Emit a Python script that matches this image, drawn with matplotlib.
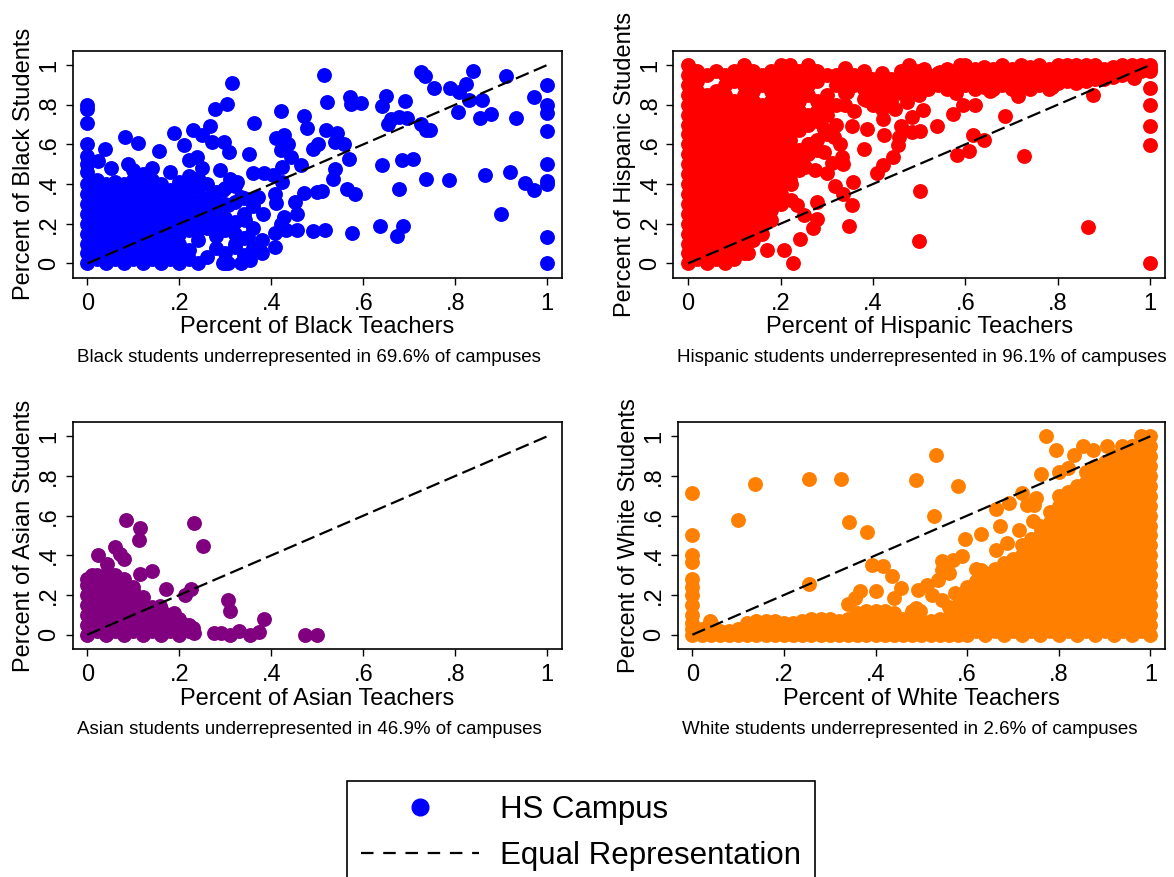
import numpy as np
import matplotlib
matplotlib.use("Agg")
import matplotlib.pyplot as plt
from matplotlib.lines import Line2D

plt.rcParams['font.family'] = ['Liberation Sans', 'DejaVu Sans']
plt.rcParams['lines.scale_dashes'] = False

W, H = 1174, 877

# dense clouds: x (hundredths) -> y values (hundredths)
black_blob = {
    0: [0, 5, 10, 15, 20, 25, 30, 35, 40, 46, 50, 54, 60, 71, 78, 80],
    2: [2, 7, 12, 17, 22, 27, 32, 37, 42],
    4: [0, 5, 10, 15, 20, 25, 30, 35, 40],
    6: [2, 7, 12, 17, 22, 27, 32, 37, 41],
    8: [0, 5, 10, 15, 20, 25, 30, 35, 40],
    10: [2, 7, 12, 17, 22, 27, 32, 37, 42, 47],
    12: [0, 5, 10, 15, 20, 25, 30, 35, 40, 45],
    14: [2, 7, 12, 17, 22, 27, 32, 37, 42, 48],
    16: [0, 5, 10, 15, 20, 25, 30, 35, 40],
    18: [2, 7, 12, 17, 22, 27, 32, 37, 46],
    20: [0, 5, 10, 15, 20, 25, 30, 35, 41],
    22: [2, 7, 17, 22, 27, 32, 38, 44, 52],
    24: [0, 12, 17, 22, 27, 32, 38, 43],
    26: [3, 18, 23, 28, 33, 40],
    28: [8, 14, 20, 25, 31, 36],
    30: [0, 5, 17, 23, 30, 38],
    32: [10, 15, 21, 31, 39],
    34: [4, 13, 25, 33],
    36: [8, 18, 29],
    38: [5, 12],
}
black_extra = [
    (0.514, 0.951), (0.314, 0.908), (0.304, 0.804), (0.278, 0.779), (0.267, 0.695),
    (0.189, 0.657), (0.229, 0.670), (0.250, 0.645), (0.211, 0.595), (0.271, 0.611),
    (0.297, 0.611), (0.308, 0.561), (0.362, 0.709), (0.420, 0.767), (0.471, 0.745),
    (0.477, 0.683), (0.520, 0.812), (0.518, 0.670), (0.543, 0.657), (0.539, 0.611),
    (0.558, 0.600), (0.501, 0.600), (0.491, 0.578), (0.568, 0.528), (0.539, 0.477),
    (0.533, 0.427), (0.564, 0.377), (0.582, 0.352), (0.499, 0.360), (0.511, 0.365),
    (0.471, 0.355), (0.465, 0.494), (0.443, 0.536), (0.437, 0.600), (0.427, 0.645),
    (0.411, 0.633), (0.420, 0.570), (0.424, 0.486), (0.423, 0.410), (0.408, 0.352),
    (0.410, 0.302), (0.452, 0.310), (0.455, 0.251), (0.427, 0.235), (0.421, 0.198),
    (0.455, 0.167), (0.432, 0.167), (0.408, 0.151), (0.408, 0.084), (0.490, 0.162),
    (0.516, 0.167), (0.576, 0.154), (0.572, 0.838), (0.574, 0.801), (0.594, 0.807),
    (0.640, 0.792), (0.650, 0.846), (0.660, 0.729), (0.654, 0.704), (0.678, 0.737),
    (0.696, 0.734), (0.690, 0.821), (0.726, 0.967), (0.735, 0.946), (0.754, 0.884),
    (0.789, 0.884), (0.809, 0.863), (0.823, 0.905), (0.838, 0.972), (0.829, 0.826),
    (0.859, 0.826), (0.805, 0.762), (0.853, 0.732), (0.878, 0.754), (0.910, 0.946),
    (0.932, 0.734), (0.971, 0.838), (1.0, 0.900), (1.0, 0.800), (1.0, 0.757),
    (1.0, 0.665), (1.0, 0.500), (1.0, 0.415), (1.0, 0.399), (1.0, 0.134), (1.0, 0.0),
    (0.726, 0.704), (0.736, 0.670), (0.746, 0.673), (0.709, 0.528), (0.685, 0.519),
    (0.640, 0.497), (0.736, 0.427), (0.787, 0.422), (0.865, 0.444), (0.919, 0.461),
    (0.952, 0.407), (0.971, 0.372), (0.678, 0.377), (0.900, 0.248), (0.636, 0.189),
    (0.687, 0.188), (0.674, 0.137), (0.039, 0.578), (0.082, 0.637), (0.109, 0.606),
    (0.155, 0.566), (0.022, 0.514), (0.089, 0.503), (0.051, 0.481), (0.352, 0.549),
    (0.360, 0.456), (0.384, 0.456), (0.403, 0.444), (0.250, 0.482), (0.238, 0.536),
    (0.289, 0.469), (0.382, 0.251), (0.358, 0.327), (0.372, 0.335), (0.334, 0.335),
    (0.342, 0.218), (0.350, 0.134), (0.378, 0.059), (0.354, 0.017), (0.334, 0.0),
    (0.294, 0.0), (0.306, 0.0), (0.322, 0.084), (0.294, 0.184), (0.306, 0.293),
    (0.294, 0.369), (0.326, 0.410), (0.310, 0.427),
]

hisp_blob = {
    0: [0, 5, 10, 15, 20, 25, 30, 35, 40, 45, 50, 55, 60, 65, 70, 75, 80, 85, 90, 95, 100],
    2: [2, 7, 12, 17, 22, 27, 32, 37, 42, 47, 52, 57, 62, 67, 72, 77, 82, 87, 92, 97],
    4: [0, 5, 10, 15, 20, 25, 30, 35, 40, 45, 50, 55, 60, 65, 70, 75, 80, 85, 95],
    6: [2, 7, 12, 17, 22, 27, 32, 37, 42, 47, 52, 57, 62, 67, 72, 77, 82, 87, 97],
    8: [0, 5, 10, 15, 20, 25, 30, 35, 40, 45, 50, 55, 60, 65, 70, 75, 80, 85, 90, 95],
    10: [2, 7, 12, 17, 22, 27, 32, 37, 42, 47, 52, 57, 62, 67, 72, 77, 82, 92, 97],
    12: [5, 10, 15, 20, 25, 30, 35, 40, 45, 50, 55, 60, 65, 70, 75, 80, 85, 90, 95, 100],
    14: [12, 17, 22, 27, 32, 37, 42, 47, 52, 57, 62, 67, 72, 77, 82, 87, 92, 97],
    16: [15, 20, 25, 30, 35, 40, 45, 50, 55, 60, 65, 70, 75, 80, 90, 95],
    18: [22, 27, 32, 37, 42, 47, 52, 57, 62, 67, 72, 77, 82, 87, 92, 97],
    20: [30, 35, 40, 45, 50, 55, 60, 65, 70, 75, 80, 85, 90, 95, 100],
    22: [42, 47, 52, 57, 62, 67, 72, 77, 82, 87, 92, 97, 100],
    24: [47, 52, 57, 67, 72, 77, 82, 87, 92, 97],
    26: [55, 60, 70, 75, 85, 90, 95, 100],
    28: [57, 62, 72, 77, 82, 92, 97],
    30: [65, 75, 80, 85, 95],
    32: [70, 80, 90, 95],
    34: [80, 86, 92, 98],
    36: [77, 90, 95],
    38: [83, 88, 93, 97],
    40: [80, 86, 92],
    42: [78, 85, 90, 96],
    44: [82, 88, 93],
    46: [86, 92, 97],
    48: [88, 93],
    50: [85, 92, 97],
    52: [88, 95],
    54: [90, 96],
    56: [88, 93, 98],
    58: [86, 91, 96],
    60: [90, 95, 100],
    62: [88, 93, 98],
    64: [89, 94, 99],
    66: [88, 93, 98],
    68: [90, 95, 100],
    70: [88, 93, 98],
    72: [90, 95, 100],
    74: [89, 94, 99],
    76: [90, 95, 100],
    78: [88, 93, 98],
    80: [91, 96, 100],
    82: [92, 97, 100],
    84: [91, 96, 100],
    86: [92, 97, 100],
    88: [93, 98, 100],
    90: [93, 98],
    92: [94, 99],
    94: [95, 100],
    96: [95, 100],
    98: [97, 100],
    100: [98, 100],
}
hisp_extra = [
    (1.0, 0.970), (1.0, 0.883), (1.0, 0.799), (1.0, 0.690), (1.0, 0.598), (1.0, 0.0),
    (0.865, 0.184), (0.726, 0.541), (0.686, 0.745), (0.714, 0.846), (0.877, 0.851),
    (0.964, 0.933), (0.640, 0.623), (0.616, 0.645), (0.608, 0.566), (0.581, 0.544),
    (0.621, 0.796), (0.594, 0.796), (0.573, 0.754), (0.539, 0.695), (0.501, 0.363),
    (0.500, 0.114), (0.501, 0.665), (0.485, 0.662), (0.485, 0.737), (0.509, 0.771),
    (0.473, 0.812), (0.444, 0.536), (0.455, 0.595), (0.456, 0.637), (0.460, 0.695),
    (0.448, 0.779), (0.424, 0.645), (0.422, 0.494), (0.409, 0.457), (0.422, 0.729),
    (0.380, 0.578), (0.388, 0.678), (0.384, 0.824), (0.356, 0.410), (0.354, 0.293),
    (0.348, 0.188), (0.336, 0.352), (0.317, 0.389), (0.354, 0.695), (0.336, 0.503),
    (0.332, 0.536), (0.279, 0.310), (0.279, 0.226), (0.271, 0.176), (0.250, 0.243),
    (0.235, 0.293), (0.223, 0.318), (0.243, 0.121), (0.227, 0.0), (0.207, 0.070),
    (0.171, 0.070), (0.171, 0.226), (0.130, 0.054), (0.223, 0.402), (0.199, 0.394),
    (0.275, 0.469), (0.254, 0.486), (0.235, 0.477), (0.295, 0.561), (0.316, 0.637),
    (0.328, 0.603), (0.295, 0.678), (0.340, 0.983), (0.336, 0.918), (0.344, 0.863),
    (0.477, 1.0), (0.384, 0.901), (0.397, 0.931), (0.432, 0.905), (0.408, 0.846),
    (0.432, 0.846), (0.452, 0.879), (0.468, 0.920), (0.489, 0.946), (0.510, 0.980),
    (0.521, 0.920), (0.537, 0.905), (0.545, 0.963), (0.589, 1.0), (0.654, 0.871),
    (0.788, 0.888), (0.740, 0.878), (0.312, 0.505), (0.262, 0.600), (0.300, 0.455),
]

asian_blob = {
    0: [0, 5, 10, 15, 20, 25, 28],
    2: [2, 7, 12, 17, 22, 27, 30],
    4: [0, 5, 10, 15, 20, 25, 30],
    6: [2, 7, 12, 17, 22, 27, 30],
    8: [0, 5, 10, 15, 20, 25, 28],
    10: [2, 7, 12, 17, 22, 24],
    12: [0, 5, 10, 15, 19],
    14: [2, 7, 12, 14],
    16: [0, 5, 10, 13],
    18: [2, 7, 10],
    20: [0, 4, 8],
    22: [2, 5],
}
asian_extra = [
    (0.084, 0.578), (0.114, 0.537), (0.113, 0.478), (0.232, 0.562), (0.252, 0.445),
    (0.060, 0.442), (0.022, 0.403), (0.071, 0.405), (0.080, 0.383), (0.043, 0.358),
    (0.114, 0.308), (0.140, 0.322), (0.171, 0.228), (0.212, 0.200), (0.225, 0.228),
    (0.305, 0.175), (0.310, 0.122), (0.010, 0.300), (0.384, 0.079), (0.473, 0.0),
    (0.499, 0.0), (0.374, 0.013), (0.354, 0.0), (0.330, 0.017), (0.310, 0.0),
    (0.291, 0.008), (0.275, 0.008), (0.157, 0.143), (0.189, 0.109), (0.229, 0.034),
    (0.213, 0.050), (0.232, 0.010),
]

white_blob = {
    0: [0, 3, 6, 10, 15, 20, 24],
    2: [0, 3], 4: [0, 2, 6], 6: [0, 2], 8: [0, 2], 10: [0, 3],
    12: [0, 3, 6], 14: [0, 3, 7], 16: [0, 3, 7], 18: [0, 3, 7], 20: [0, 3, 6],
    22: [0, 3, 6], 24: [0, 3, 7], 26: [0, 3, 8], 28: [0, 3, 8], 30: [0, 3, 8],
    32: [0, 3, 7], 34: [0, 4, 8], 36: [0, 4, 8, 11], 38: [0, 4, 8, 12],
    40: [0, 4, 8, 12], 42: [0, 4, 8, 12], 44: [0, 4, 8, 11], 46: [0, 4, 8],
    48: [0, 3, 7, 12], 50: [0, 3, 7], 52: [0, 3, 7], 54: [0, 4, 8],
    56: [0, 4, 9, 14], 58: [0, 5, 10, 15, 20],
    60: [0, 5, 10, 15, 20, 24],
    62: [2, 7, 12, 17, 22, 27, 33],
    64: [0, 5, 10, 15, 20, 25, 30],
    66: [2, 7, 12, 17, 22, 27, 33],
    68: [0, 5, 10, 15, 20, 25, 30, 36],
    70: [2, 7, 12, 17, 22, 27, 32, 38],
    72: [0, 5, 10, 15, 20, 25, 30, 35, 40, 45],
    74: [2, 7, 12, 17, 22, 27, 32, 37, 42, 48],
    76: [0, 5, 10, 15, 20, 25, 30, 35, 40, 45, 50, 55],
    78: [2, 7, 12, 17, 22, 27, 32, 37, 42, 47, 52, 57, 62],
    80: [0, 5, 10, 15, 20, 25, 30, 35, 40, 45, 50, 55, 60, 65, 70],
    82: [2, 7, 12, 17, 22, 27, 32, 37, 42, 47, 52, 57, 62, 67, 72],
    84: [0, 5, 10, 15, 20, 25, 30, 35, 40, 45, 50, 55, 60, 65, 70, 75],
    86: [2, 7, 12, 17, 22, 27, 32, 37, 42, 47, 52, 57, 62, 67, 72, 77, 82],
    88: [0, 5, 10, 15, 20, 25, 30, 35, 40, 45, 50, 55, 60, 65, 70, 75, 80, 85],
    90: [2, 7, 12, 17, 22, 27, 32, 37, 42, 47, 52, 57, 62, 67, 72, 77, 82, 87],
    92: [0, 5, 10, 15, 20, 25, 30, 35, 40, 45, 50, 55, 60, 65, 70, 75, 80, 85, 90],
    94: [2, 7, 12, 17, 22, 27, 32, 37, 42, 47, 52, 57, 62, 67, 72, 77, 82, 87, 92],
    96: [0, 5, 10, 15, 20, 25, 30, 35, 40, 45, 50, 55, 60, 65, 70, 75, 80, 85, 90, 95],
    98: [2, 7, 12, 17, 22, 27, 32, 37, 42, 47, 52, 57, 62, 67, 72, 77, 82, 87, 92, 97],
    100: [0, 5, 10, 15, 20, 25, 30, 35, 40, 45, 50, 55, 60, 65, 70, 75, 80, 85, 90, 95, 100],
}
white_extra = [
    (0.0, 0.714), (0.0, 0.500), (0.0, 0.403), (0.0, 0.365), (0.0, 0.280),
    (0.038, 0.067), (0.099, 0.576), (0.136, 0.761), (0.254, 0.785), (0.325, 0.787),
    (0.254, 0.257), (0.488, 0.782), (0.531, 0.908), (0.581, 0.751), (0.528, 0.597),
    (0.343, 0.566), (0.382, 0.516), (0.392, 0.353), (0.417, 0.345), (0.436, 0.294),
    (0.402, 0.222), (0.455, 0.235), (0.441, 0.185), (0.366, 0.218), (0.355, 0.185),
    (0.340, 0.156), (0.772, 1.0), (0.793, 0.933), (0.833, 0.908), (0.854, 0.950),
    (0.874, 0.929), (0.906, 0.953), (0.939, 0.950), (0.980, 1.0), (0.762, 0.812),
    (0.801, 0.818), (0.821, 0.840), (0.720, 0.714), (0.691, 0.664), (0.663, 0.634),
    (0.671, 0.550), (0.630, 0.509), (0.596, 0.482), (0.746, 0.655), (0.750, 0.689),
    (0.730, 0.655), (0.744, 0.571), (0.713, 0.529), (0.664, 0.429), (0.687, 0.462),
    (0.589, 0.395), (0.569, 0.378), (0.545, 0.370), (0.545, 0.328), (0.561, 0.311),
    (0.537, 0.277), (0.492, 0.227), (0.512, 0.252), (0.524, 0.202), (0.545, 0.176),
    (0.573, 0.210), (0.630, 0.328), (0.638, 0.311), (0.618, 0.235), (0.589, 0.202),
    (0.488, 0.134), (0.496, 0.118),
]

equal_line = [0, 1]
tick_vals = [0, 0.2, 0.4, 0.6, 0.8, 1]
tick_labels = ['0', '.2', '.4', '.6', '.8', '1']

panels = [
    # left, top, right, bottom in pixels
    ((72.7, 50.7, 562, 277.7), black_blob, black_extra, '#0000FF',
     'Percent of Black Students', 'Percent of Black Teachers',
     'Black students underrepresented in 69.6% of campuses'),
    ((673.3, 50.7, 1165, 277.7), hisp_blob, hisp_extra, '#FF0000',
     'Percent of Hispanic Students', 'Percent of Hispanic Teachers',
     'Hispanic students underrepresented in 96.1% of campuses'),
    ((72.7, 422, 562, 649), asian_blob, asian_extra, '#800080',
     'Percent of Asian Students', 'Percent of Asian Teachers',
     'Asian students underrepresented in 46.9% of campuses'),
    ((677.7, 422, 1165, 649), white_blob, white_extra, '#FF8000',
     'Percent of White Students', 'Percent of White Teachers',
     'White students underrepresented in 2.6% of campuses'),
]


def collect(blob, extra):
    xs = [k / 100 for k, v in blob.items() for _ in v]
    ys = [y / 100 for v in blob.values() for y in v]
    xs += [p[0] for p in extra]
    ys += [p[1] for p in extra]
    return np.array(xs), np.array(ys)


fig = plt.figure(figsize=(11.74, 8.77), dpi=100)

for (l, t, r, b), blob, extra, color, ylab, xlab, note in panels:
    ax = fig.add_axes([l / W, 1 - b / H, (r - l) / W, (b - t) / H])
    x, y = collect(blob, extra)
    ax.scatter(x, y, s=115, color=color, linewidths=0, zorder=2)
    ax.plot(equal_line, equal_line, color='black', lw=1.6, dashes=(10, 4), zorder=3)
    ax.set_xlim(-0.032, 1.032)
    ax.set_ylim(-0.072, 1.072)
    ax.set_xticks(tick_vals)
    ax.set_xticklabels(tick_labels)
    ax.set_yticks(tick_vals)
    ax.set_yticklabels(tick_labels, rotation=90, va='center')
    ax.tick_params(direction='out', length=5, width=1, labelsize=17, colors='black')
    ax.tick_params(axis='x', pad=6)
    ax.tick_params(axis='y', pad=4)
    for sp in ax.spines.values():
        sp.set_linewidth(1.2)
    ax.set_xlabel(xlab, fontsize=17, labelpad=1)
    ax.set_ylabel(ylab, fontsize=17, labelpad=2)
    note_y = b + 80
    fig.text((l + 4) / W, 1 - note_y / H, note, ha='left', va='center', fontsize=13.5)

handles = [
    Line2D([], [], ls='none', marker='o', ms=12, mfc='#0000FF', mec='#0000FF'),
    Line2D([], [], color='black', lw=1.6, dashes=(9, 7)),
]
leg = fig.legend(handles, ['HS Campus', 'Equal Representation'], loc='upper left',
                 bbox_to_anchor=(347 / W, 1 - 781 / H), fontsize=22.5, frameon=True,
                 fancybox=False, edgecolor='black', framealpha=1, borderpad=0.45,
                 handlelength=3.77, handletextpad=0.68, labelspacing=0.5,
                 borderaxespad=0)
leg.get_frame().set_linewidth(1.2)

fig.savefig('out.png', dpi=100, facecolor='white')
